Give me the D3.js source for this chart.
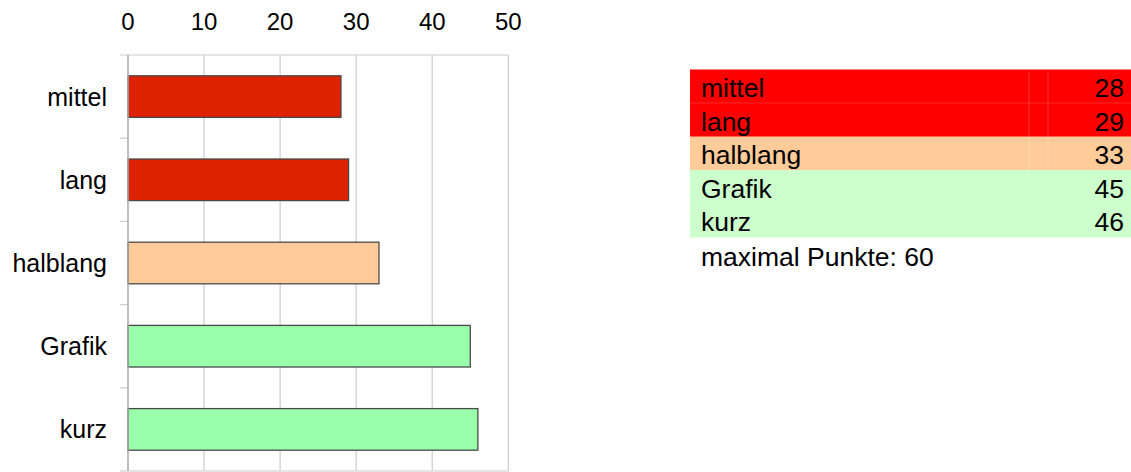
<!DOCTYPE html>
<html>
<head>
<meta charset="utf-8">
<script src="https://cdn.jsdelivr.net/npm/d3@7/dist/d3.min.js"></script>
<style>
  html, body { margin: 0; padding: 0; background: #fff; }
  svg { display: block; font-family: "Liberation Sans", Arial, sans-serif; }
</style>
</head>
<body>
<svg id="chart" width="1131" height="472"></svg>
<script>
// Punkte je Variante
const categories = ["mittel", "lang", "halblang", "Grafik", "kurz"];
const values = [28, 29, 33, 45, 46];
const tickValues = [0, 10, 20, 30, 40, 50];
const maxPoints = 60;

// colour groups: bar fill and table row fill
const groups = ["schwach", "schwach", "mittel", "gut", "gut"];
const barColors = { schwach: "#dd2200", mittel: "#ffcc99", gut: "#99ffaa" };
const rowColors = { schwach: "#ff0000", mittel: "#ffcc99", gut: "#ccffcc" };

const svg = d3.select("#chart");
const labelSize = 25;
const tableSize = 26.5;

const x = d3.scaleLinear().domain([0, 50]).range([128, 508.3]);
const y = d3.scaleBand().domain(categories).range([55, 471])
  .paddingInner(0.5).paddingOuter(0.25);

const plotTop = y.range()[0], plotBottom = y.range()[1];
const plotLeft = x.range()[0], plotRight = x.range()[1];

// vertical gridlines
svg.append("g").selectAll("line").data(tickValues.slice(1)).join("line")
  .attr("x1", d => x(d)).attr("x2", d => x(d))
  .attr("y1", plotTop).attr("y2", plotBottom)
  .attr("stroke", "#cccccc").attr("stroke-width", 1.2);

// top and bottom border lines, extended over the tick length
[plotTop, plotBottom].forEach(yy => {
  svg.append("line")
    .attr("x1", plotLeft - 8).attr("x2", plotRight)
    .attr("y1", yy).attr("y2", yy)
    .attr("stroke", "#cccccc").attr("stroke-width", 1.2);
});

// category separator ticks on the left axis
const boundaries = d3.range(1, categories.length).map(i => plotTop + i * y.step());
svg.append("g").selectAll("line").data(boundaries).join("line")
  .attr("x1", plotLeft - 8).attr("x2", plotLeft)
  .attr("y1", d => d).attr("y2", d => d)
  .attr("stroke", "#cccccc").attr("stroke-width", 1.2);

// bars
svg.append("g").selectAll("rect").data(categories).join("rect")
  .attr("x", x(0))
  .attr("y", d => y(d))
  .attr("width", (d, i) => x(values[i]) - x(0))
  .attr("height", y.bandwidth())
  .attr("fill", (d, i) => barColors[groups[i]])
  .attr("stroke", "#4a4a4a").attr("stroke-width", 1.3);

// left axis line
svg.append("line")
  .attr("x1", plotLeft).attr("x2", plotLeft)
  .attr("y1", plotTop).attr("y2", plotBottom)
  .attr("stroke", "#aaaaaa").attr("stroke-width", 1.5);

// category labels
svg.append("g").selectAll("text").data(categories).join("text")
  .attr("x", plotLeft - 21)
  .attr("y", d => y(d) + y.bandwidth() / 2)
  .attr("dy", "0.36em")
  .attr("text-anchor", "end")
  .attr("font-size", labelSize)
  .attr("fill", "#000")
  .text(d => d);

// top axis labels
svg.append("g").selectAll("text").data(tickValues).join("text")
  .attr("x", d => x(d))
  .attr("y", 29.5)
  .attr("text-anchor", "middle")
  .attr("font-size", 24)
  .attr("fill", "#000")
  .text(d => d);

// table
const tableLeft = 690, tableRight = 1131, rowTop = 69.5, rowH = 33.5;
const table = svg.append("g");
const rows = table.selectAll("g").data(categories).join("g")
  .attr("transform", (d, i) => `translate(0,${rowTop + i * rowH})`);
rows.append("rect")
  .attr("x", tableLeft).attr("y", 0)
  .attr("width", tableRight - tableLeft).attr("height", rowH + 0.5)
  .attr("fill", (d, i) => rowColors[groups[i]]);
rows.append("text")
  .attr("x", tableLeft + 11).attr("y", 27.5)
  .attr("font-size", tableSize).attr("fill", "#000")
  .text(d => d);
rows.append("text")
  .attr("x", 1124).attr("y", 27.5)
  .attr("text-anchor", "end")
  .attr("font-size", tableSize).attr("fill", "#000")
  .text((d, i) => values[i]);

// faint cell borders inside the table
[1029, 1048].forEach(cx => {
  table.append("line")
    .attr("x1", cx).attr("x2", cx)
    .attr("y1", rowTop + 2).attr("y2", rowTop + categories.length * rowH)
    .attr("stroke", "#ffffff").attr("stroke-opacity", 0.18);
});
table.append("line")
  .attr("x1", tableLeft).attr("x2", tableRight)
  .attr("y1", rowTop + rowH).attr("y2", rowTop + rowH)
  .attr("stroke", "#ffffff").attr("stroke-opacity", 0.15);

table.append("text")
  .attr("x", tableLeft + 11)
  .attr("y", rowTop + categories.length * rowH + 29)
  .attr("font-size", tableSize).attr("fill", "#000")
  .text(`maximal Punkte: ${maxPoints}`);
</script>
</body>
</html>
